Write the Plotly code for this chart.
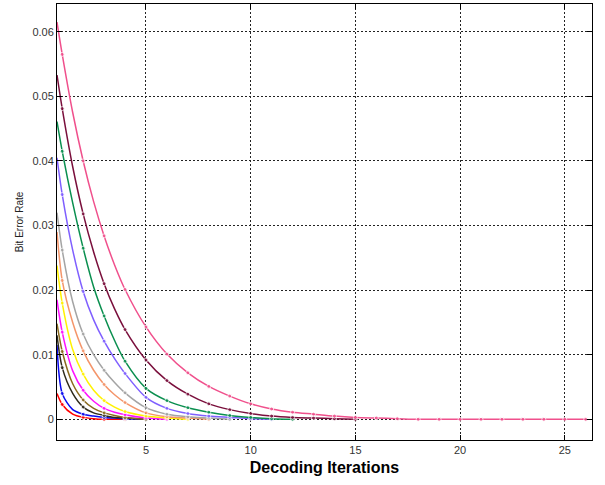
import plotly.graph_objects as go

# Decoding iteration positions (shared grid)
iterations = [0.75, 1, 1.5, 2, 2.5, 3, 3.5, 4, 5, 6, 7, 8, 9, 10, 11, 12, 13,
              14, 15, 16, 17, 18, 19, 20, 21, 22, 23, 24, 25, 26]

# Bit error rate per curve; each list follows the grid
ber_red = [0.0040, 0.0023, 0.0008, 0.0003, 0.0001, 0.0, 0.0, 0.0]
ber_blue = [0.0115, 0.0040, 0.0015, 0.0008, 0.0005, 0.0003, 0.0002, 0.0001, 0.0]
ber_dark = [0.0130, 0.0080, 0.0040, 0.0019, 0.0010, 0.0006, 0.0003, 0.0002, 0.0]
ber_olive = [0.0148, 0.0105, 0.0055, 0.0030, 0.0017, 0.0010, 0.0006, 0.0003, 0.0]
ber_magenta = [0.0185, 0.0135, 0.0075, 0.0045, 0.0028, 0.0017, 0.0011, 0.0007,
               0.0002, 0.0]
ber_yellow = [0.0238, 0.0180, 0.0108, 0.0070, 0.0045, 0.0029, 0.0019, 0.0012,
              0.0005, 0.0002, 0.0]
ber_orange = [0.0290, 0.0215, 0.0150, 0.0106, 0.0076, 0.0054, 0.0038, 0.0026,
              0.0010, 0.0004, 0.0002, 0.0]
ber_gray = [0.0320, 0.0262, 0.0182, 0.0132, 0.0100, 0.0076, 0.0057, 0.0041,
            0.0018, 0.0008, 0.0004, 0.0002, 0.0]
ber_violet = [0.0405, 0.0348, 0.0262, 0.0198, 0.0154, 0.0121, 0.0094, 0.0071,
              0.0034, 0.0017, 0.0009, 0.0005, 0.0003, 0.0001, 0.0]
ber_green = [0.0461, 0.0415, 0.0335, 0.0265, 0.0205, 0.0160, 0.0122, 0.0090,
             0.0048, 0.0029, 0.0018, 0.0011, 0.0006, 0.0003, 0.0001, 0.0]
ber_maroon = [0.0533, 0.0481, 0.0391, 0.0318, 0.0259, 0.0210, 0.0171, 0.0139,
              0.0092, 0.0060, 0.0039, 0.0024, 0.0015, 0.0009, 0.0005, 0.0003,
              0.0002, 0.0001, 0.0]
ber_pink = [0.0615, 0.0565, 0.0475, 0.0400, 0.0337, 0.0284, 0.0239, 0.0201,
            0.0143, 0.0101, 0.0072, 0.0051, 0.0036, 0.0024, 0.0016, 0.0011,
            0.0008, 0.0005, 0.0003, 0.0002, 0.0001, 0.0, 0.0, 0.0, 0.0, 0.0,
            0.0, 0.0, 0.0, 0.0]

series = [
    (ber_red, "#ff0000"),
    (ber_blue, "#0a0af0"),
    (ber_dark, "#2e2a1a"),
    (ber_olive, "#8a6a1e"),
    (ber_magenta, "#ff10ff"),
    (ber_yellow, "#fff200"),
    (ber_orange, "#f4956a"),
    (ber_gray, "#a4a4a4"),
    (ber_violet, "#7f5fff"),
    (ber_green, "#0a8f4f"),
    (ber_maroon, "#7a0f3c"),
    (ber_pink, "#f0508c"),
]

fig = go.Figure()
for values, color in series:
    xs = iterations[:len(values)]
    sizes = [4 if float(x).is_integer() else 0 for x in xs]
    fig.add_trace(go.Scatter(
        x=xs, y=values, mode="lines+markers",
        line=dict(color=color, width=1.5, shape="spline", smoothing=0.8),
        marker=dict(color=color, size=sizes, symbol="circle"),
        showlegend=False, hoverinfo="skip",
    ))

grid_style = dict(showgrid=True, gridcolor="#222222", gridwidth=1,
                  griddash="2px,2px", zeroline=False, showline=True,
                  linecolor="black", linewidth=1, mirror="ticks",
                  ticks="inside", ticklen=5, tickcolor="black",
                  tickfont=dict(family="Liberation Sans, Arial", size=11,
                                color="#333333"))

fig.update_xaxes(range=[0.75, 26.3], tickvals=[5, 10, 15, 20, 25],
                 title=dict(text="<b>Decoding Iterations</b>",
                            font=dict(family="Liberation Sans, Arial", size=16,
                                      color="black"), standoff=6),
                 **grid_style)
fig.update_yaxes(range=[-0.0032, 0.0643],
                 tickvals=[0, 0.01, 0.02, 0.03, 0.04, 0.05, 0.06],
                 ticktext=["0", "0.01", "0.02", "0.03", "0.04", "0.05", "0.06"],
                 title=dict(text="Bit Error Rate",
                            font=dict(family="Liberation Sans, Arial", size=10,
                                      color="#222222"), standoff=6),
                 **grid_style)

fig.update_layout(width=605, height=485,
                  margin=dict(l=57, r=13, t=4, b=45),
                  paper_bgcolor="white", plot_bgcolor="white")

fig.write_html("out.html")
